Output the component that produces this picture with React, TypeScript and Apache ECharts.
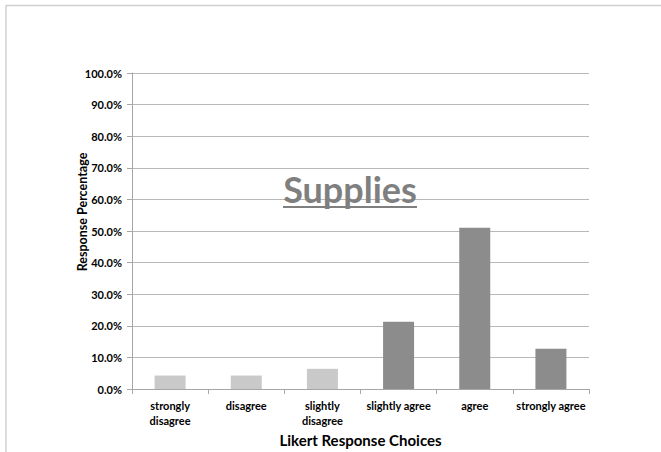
import React, { useEffect, useRef } from "react";
import * as echarts from "echarts";

const categories = [
  "strongly\ndisagree",
  "disagree",
  "slightly\ndisagree",
  "slightly agree",
  "agree",
  "strongly agree",
];
const values = [4.26, 4.26, 6.38, 21.28, 51.06, 12.77];
const barColors = ["#c9c9c9", "#c9c9c9", "#c9c9c9", "#8c8c8c", "#8c8c8c", "#8c8c8c"];
const titleText = "Supplies";
const yAxisName = "Response Percentage";
const xAxisName = "Likert Response Choices";

const FONT = "Lato, 'Open Sans', sans-serif";

export default function App() {
  const ref = useRef<HTMLDivElement>(null);
  useEffect(() => {
    document.body.style.margin = "0";
    const chart = echarts.init(ref.current!, null, { renderer: "svg" });
    chart.setOption({
      animation: false,
      backgroundColor: "#ffffff",
      grid: {
        left: 132,
        right: 72,
        top: 73,
        bottom: 63,
        containLabel: false,
        outerBoundsMode: "none",
      },
      xAxis: {
        type: "category",
        data: categories,
        axisLine: { lineStyle: { color: "#a6a6a6", width: 1 } },
        axisTick: { show: true, length: 5, alignWithLabel: false, lineStyle: { color: "#a6a6a6" } },
        axisLabel: {
          interval: 0,
          margin: 9,
          color: "#000",
          fontFamily: FONT,
          fontWeight: "bold",
          fontSize: 11,
          lineHeight: 15,
        },
        name: xAxisName,
        nameLocation: "middle",
        nameGap: 41,
        nameTextStyle: { color: "#000", fontFamily: FONT, fontWeight: "bold", fontSize: 15 },
      },
      yAxis: {
        type: "value",
        min: 0,
        max: 100,
        interval: 10,
        axisLine: { show: true, lineStyle: { color: "#a6a6a6", width: 1 } },
        axisTick: { show: true, length: 5, lineStyle: { color: "#a6a6a6" } },
        splitLine: { lineStyle: { color: "#b8b8b8", width: 1 } },
        axisLabel: {
          margin: 10,
          color: "#000",
          fontFamily: FONT,
          fontWeight: "bold",
          fontSize: 11,
          formatter: (v: number) => v.toFixed(1) + "%",
        },
      },
      series: [
        {
          type: "bar",
          barWidth: 31,
          data: values.map((v, i) => ({
            value: v,
            itemStyle: { color: barColors[i] },
          })),
        },
      ],
      graphic: [
        {
          type: "line",
          shape: { x1: 6, y1: 5.5, x2: 661, y2: 5.5 },
          style: { stroke: "#d0d0d0", lineWidth: 1.5 },
        },
        {
          type: "line",
          shape: { x1: 6, y1: 5, x2: 6, y2: 452 },
          style: { stroke: "#d0d0d0", lineWidth: 1.5 },
        },
        {
          type: "text",
          x: 82,
          y: 212,
          rotation: Math.PI / 2,
          style: {
            text: yAxisName,
            fill: "#000",
            font: "bold 12.5px " + FONT,
            textAlign: "center",
            textVerticalAlign: "middle",
          },
        },
        {
          type: "text",
          x: 350,
          y: 189,
          style: {
            text: titleText,
            fill: "#7f7f7f",
            font: "bold 36px " + FONT,
            textAlign: "center",
            textVerticalAlign: "middle",
          },
          z: 10,
        },
        {
          type: "line",
          shape: { x1: 283, y1: 207, x2: 417, y2: 207 },
          style: { stroke: "#7f7f7f", lineWidth: 2 },
          z: 10,
        },
      ],
    });
    return () => chart.dispose();
  }, []);
  return <div ref={ref} style={{ width: 661, height: 452 }} />;
}
